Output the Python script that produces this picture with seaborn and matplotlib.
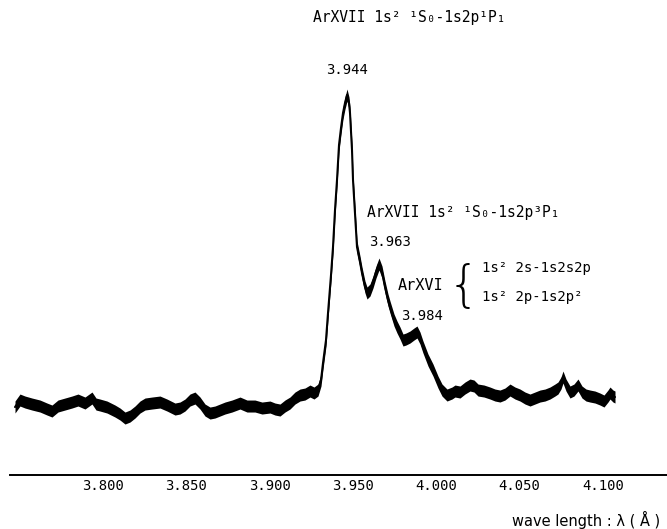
import numpy as np
import pandas as pd
import matplotlib
matplotlib.use("Agg")
import matplotlib.pyplot as plt
import seaborn as sns

# ---- data ----
wavelength = [
    3.7472, 3.7502, 3.7532, 3.7574, 3.7622, 3.7664, 3.7694, 3.7730, 3.7772, 3.7814,
    3.7850, 3.7892, 3.7934, 3.7958, 3.7982, 3.8024, 3.8072, 3.8102, 3.8132, 3.8162,
    3.8192, 3.8222, 3.8252, 3.8294, 3.8342, 3.8384, 3.8432, 3.8462, 3.8492, 3.8522,
    3.8552, 3.8582, 3.8612, 3.8642, 3.8672, 3.8702, 3.8732, 3.8774, 3.8822, 3.8864,
    3.8912, 3.8954, 3.9002, 3.9032, 3.9062, 3.9092, 3.9122, 3.9152, 3.9182, 3.9212,
    3.9242, 3.9266, 3.9290, 3.9308, 3.9320, 3.9338, 3.9350, 3.9368, 3.9380, 3.9392,
    3.9404, 3.9416, 3.9428, 3.9440, 3.9452, 3.9464, 3.9476, 3.9482, 3.9494, 3.9500,
    3.9512, 3.9524, 3.9542, 3.9554, 3.9572, 3.9584, 3.9602, 3.9620, 3.9638, 3.9656,
    3.9674, 3.9692, 3.9710, 3.9722, 3.9746, 3.9764, 3.9782, 3.9800, 3.9818, 3.9842,
    3.9866, 3.9884, 3.9902, 3.9920, 3.9950, 3.9980, 4.0010, 4.0034, 4.0064, 4.0094,
    4.0112, 4.0142, 4.0172, 4.0202, 4.0226, 4.0250, 4.0286, 4.0322, 4.0352, 4.0382,
    4.0412, 4.0442, 4.0472, 4.0502, 4.0532, 4.0562, 4.0592, 4.0622, 4.0652, 4.0682,
    4.0712, 4.0730, 4.0748, 4.0760, 4.0778, 4.0802, 4.0826, 4.0850, 4.0874, 4.0898,
    4.0922, 4.0952, 4.0982, 4.1006, 4.1030, 4.1042, 4.1060, 4.1072,
]
intensity = [
    68, 75, 73, 71, 69, 66, 64, 69, 71, 73,
    75, 72, 77, 71, 70, 68, 64, 61, 57, 59,
    63, 68, 71, 72, 73, 70, 66, 67, 70, 75,
    77, 72, 65, 62, 63, 65, 67, 69, 72, 69,
    69, 67, 68, 66, 65, 69, 72, 77, 80, 81,
    84, 82, 85, 95, 112, 135, 162, 200, 228, 265,
    295, 330, 347, 362, 372, 380, 372, 362, 325, 295,
    262, 228, 213, 202, 188, 182, 185, 193, 203, 211,
    203, 188, 175, 168, 155, 148, 142, 135, 136, 138,
    141, 143, 137, 128, 115, 105, 93, 85, 80, 82,
    84, 83, 87, 90, 89, 85, 84, 82, 80, 79,
    81, 85, 82, 80, 77, 75, 77, 79, 80, 82,
    85, 87, 92, 98, 90, 83, 85, 90, 83, 80,
    79, 78, 76, 74, 79, 82, 79, 78,
]
tick_values = [3.75, 3.80, 3.85, 3.90, 3.95, 4.00, 4.05, 4.10]
tick_labels = ["", "3.800", "3.850", "3.900", "3.950", "4.000", "4.050", "4.100"]
peak_labels = ["3.944", "3.963", "3.984"]

# ---- style ----
sns.set_theme(style="white")
plt.rcParams["font.family"] = ["DejaVu Sans Mono", "DejaVu Sans"]

fig = plt.figure(figsize=(6.67, 5.29), dpi=100)
ax = fig.add_axes([0.015, 0.102, 0.985, 0.898])

df = pd.DataFrame({"wavelength": wavelength, "intensity": intensity})
sns.lineplot(data=df, x="wavelength", y="intensity", color="black",
             linewidth=1.5, ax=ax, sort=False)
band = 6
y = np.asarray(intensity, dtype=float)
ax.fill_between(wavelength, y - band, y + band, color="black", linewidth=0)

ax.set_xlim(3.7442, 4.1384)
ax.set_ylim(0, 475)

for s in ["left", "right", "top"]:
    ax.spines[s].set_visible(False)
ax.spines["bottom"].set_linewidth(1.4)
ax.spines["bottom"].set_color("black")
ax.set_xticks(tick_values)
ax.set_xticklabels(tick_labels)
ax.tick_params(axis="x", direction="in", length=4, width=1, colors="black",
               labelsize=10, pad=3)
ax.set_yticks([])
ax.set_xlabel("")
ax.set_ylabel("")

txt = dict(color="black", family=["DejaVu Sans Mono", "DejaVu Sans"])
ax.text(3.926, 458, "ArXVII 1s² ¹S₀-1s2p¹P₁", fontsize=10.5, ha="left", va="center", **txt)
ax.text(3.9464, 405, peak_labels[0], fontsize=10, ha="center", va="center", **txt)
ax.text(3.9584, 263, "ArXVII 1s² ¹S₀-1s2p³P₁", fontsize=10.5, ha="left", va="center", **txt)
ax.text(3.9596, 233, peak_labels[1], fontsize=10, ha="left", va="center", **txt)
ax.text(3.977, 190, "ArXVI", fontsize=11, ha="left", va="center", **txt)
ax.text(4.016, 188, "{", fontsize=36, ha="center", va="center", color="black",
        family="DejaVu Sans", fontweight="light")
ax.text(4.0274, 207, "1s² 2s-1s2s2p", fontsize=10, ha="left", va="center", **txt)
ax.text(4.0274, 178, "1s² 2p-1s2p²", fontsize=10, ha="left", va="center", **txt)
ax.text(3.9788, 159, peak_labels[2], fontsize=10, ha="left", va="center", **txt)

fig.text(660 / 667, 0.017, "wave length : λ ( Å )", fontsize=10.5, ha="right",
         va="center", color="black", family="DejaVu Sans")

fig.savefig("out.png", dpi=100)
